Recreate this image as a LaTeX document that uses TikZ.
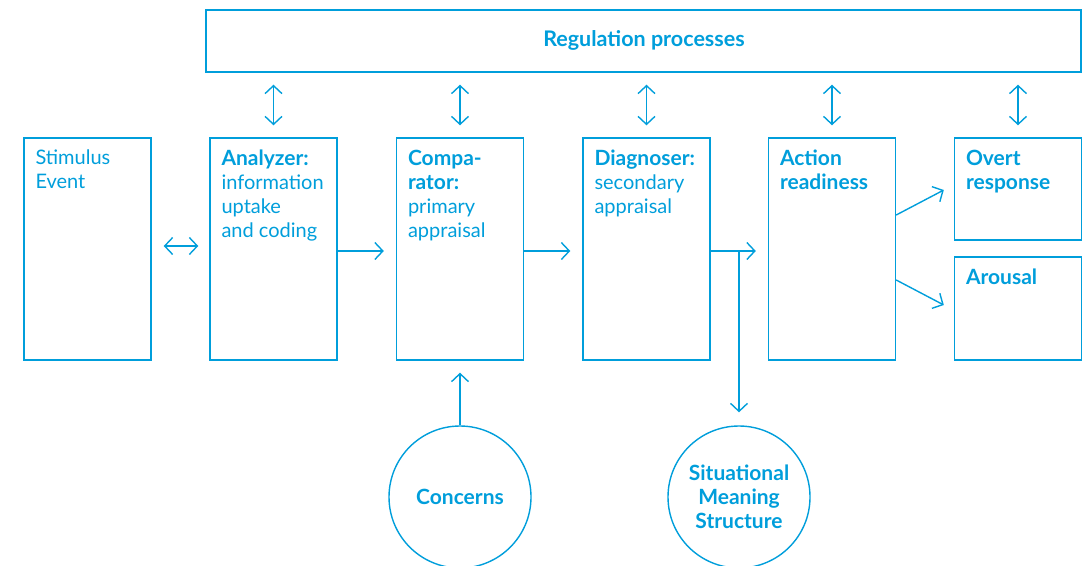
\documentclass[tikz,border=0pt]{standalone}
\usepackage{fontspec}
\setmainfont{Lato}
\usetikzlibrary{arrows.meta}
\definecolor{cy}{RGB}{0,158,219}
\newcommand{\hd}[1]{{\fontsize{21}{24}\selectfont\bfseries #1}}
\begin{document}
\begin{tikzpicture}[x=1pt,y=-1pt,
  every node/.style={text=cy},
  box/.style={draw=cy,line width=1.4pt,inner sep=0pt,minimum width=127pt,minimum height=222pt},
  sbox/.style={box,minimum height=102pt},
  circ/.style={circle,draw=cy,line width=1.4pt,minimum size=142pt,inner sep=0pt,align=center,font=\fontsize{21}{24}\selectfont\bfseries},
  lbl/.style={anchor=north west,inner sep=0pt,align=left,font=\fontsize{20}{24}\selectfont},
  arr/.style={draw=cy,line width=1.4pt,-{Straight Barb[length=8pt,width=17pt,line width=1.4pt]}},
  darr/.style={draw=cy,line width=1.4pt,{Straight Barb[length=8pt,width=17pt,line width=1.4pt]}-{Straight Barb[length=8pt,width=17pt,line width=1.4pt]}}
]
\useasboundingbox (0,0) rectangle (1091,565);
\node[box,minimum width=875pt,minimum height=62pt] (R) at (643.5,41) {};
\node[font=\fontsize{21.5}{24}\selectfont\bfseries] (tR) at (644,40) {Regulation processes};
\node[box] (S) at (87.5,249) {};
\node[box] (A) at (273.5,249) {};
\node[box] (Cp) at (460,249) {};
\node[box] (D) at (646.5,249) {};
\node[box] (Act) at (832,249) {};
\node[sbox] (Ov) at (1018,189) {};
\node[sbox,minimum height=103pt] (Ar) at (1018,308.5) {};
\node[lbl] (tS) at ([xshift=12pt,yshift=-12.5pt]S.north west) {Stimulus\\Event};
\node[lbl] (tA) at ([xshift=12pt,yshift=-12.5pt]A.north west) {\hd{Analyzer:}\\information\\uptake\\and coding};
\node[lbl] (tC) at ([xshift=12pt,yshift=-12.5pt]Cp.north west) {\hd{Compa-}\\\hd{rator:}\\primary\\appraisal};
\node[lbl] (tD) at ([xshift=12pt,yshift=-12.5pt]D.north west) {\hd{Diagnoser:}\\secondary\\appraisal};
\node[lbl] (tAct) at ([xshift=12pt,yshift=-12.5pt]Act.north west) {\hd{Action}\\\hd{readiness}};
\node[lbl] (tOv) at ([xshift=12pt,yshift=-12.5pt]Ov.north west) {\hd{Overt}\\\hd{response}};
\node[lbl] (tAr) at ([xshift=12pt,yshift=-12.5pt]Ar.north west) {\hd{Arousal}};
\node[circ] (Con) at (460,497) {Concerns};
\node[circ] (Sit) at (739,497) {Situational\\Meaning\\Structure};
% regulation arrows
\foreach \n in {A,Cp,D,Act,Ov}
  \draw[darr,shorten <=12pt,shorten >=12pt] (\n.north) -- (\n.north |- R.south);
% horizontal
\draw[darr,shorten <=12pt,shorten >=11pt] ([yshift=3pt]S.east) -- ([yshift=3pt]A.west);
\draw[arr,shorten >=12pt] ([yshift=-2pt]A.east) -- ([yshift=-2pt]Cp.west);
\draw[arr,shorten >=12pt] ([yshift=-2pt]Cp.east) -- ([yshift=-2pt]D.west);
\draw[arr,shorten >=12pt] ([yshift=-2pt]D.east) -- ([yshift=-2pt]Act.west);
\coordinate (br) at ([yshift=-2pt]Sit.north |- D.east);
\draw[arr,shorten >=13pt] (br) -- (Sit.north);
\draw[arr,shorten >=12pt] (Con.north) -- (Cp.south);
\draw[arr] ([yshift=34pt]Act.east) -- ([xshift=-10pt,yshift=-1pt]Ov.west);
\draw[arr] ([yshift=-31pt]Act.east) -- ([xshift=-10pt,yshift=3.5pt]Ar.west);
\end{tikzpicture}
\end{document}
